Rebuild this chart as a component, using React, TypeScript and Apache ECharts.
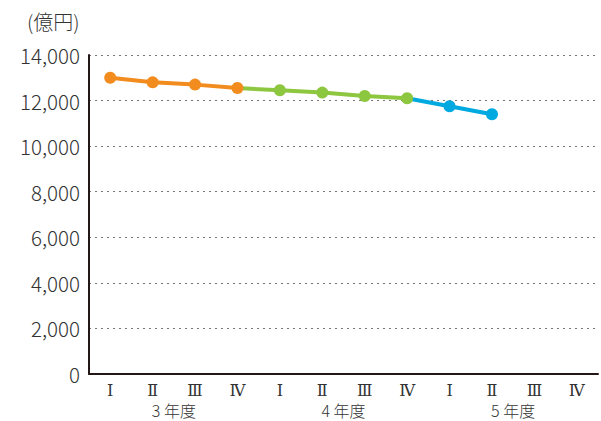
import React, { useEffect, useRef } from "react";
import * as echarts from "echarts";

const quarters = ["Ⅰ", "Ⅱ", "Ⅲ", "Ⅳ", "Ⅰ", "Ⅱ", "Ⅲ", "Ⅳ", "Ⅰ", "Ⅱ", "Ⅲ", "Ⅳ"];
const years = ["3 年度", "4 年度", "5 年度"];
const values = [13000, 12800, 12700, 12550, 12450, 12350, 12200, 12100, 11750, 11400];
const yTicks = [0, 2000, 4000, 6000, 8000, 10000, 12000, 14000];
const unitLabel = "(億円)";

const ranges = [
  { from: 0, to: 3, markFrom: 0, color: "#F28C1E" },
  { from: 3, to: 7, markFrom: 4, color: "#8DC63F" },
  { from: 7, to: 9, markFrom: 8, color: "#00A9E0" },
];

const FONT = "'Noto Sans CJK JP', 'Noto Sans', sans-serif";

export default function App() {
  const ref = useRef<HTMLDivElement>(null);
  useEffect(() => {
    const chart = echarts.init(ref.current!, null, { renderer: "svg" });
    const series = ranges.map((r, k) => ({
      type: "line",
      xAxisIndex: 0,
      yAxisIndex: 0,
      z: 10 - k,
      symbol: "circle",
      symbolSize: 12,
      lineStyle: { color: r.color, width: 4 },
      itemStyle: { color: r.color },
      data: quarters.map((_, i) => {
        if (i < r.from || i > r.to || i >= values.length) return "-";
        if (i < r.markFrom) return { value: values[i], symbol: "none" };
        return values[i];
      }),
    }));
    chart.setOption({
      animation: false,
      grid: { left: 89, right: 3, top: 55, bottom: 47, containLabel: false },
      graphic: [
        {
          type: "text",
          left: 27,
          top: 11,
          style: { text: unitLabel, font: `300 20px ${FONT}`, fill: "#333" },
        },
      ],
      xAxis: [
        {
          type: "category",
          data: quarters,
          boundaryGap: true,
          axisLine: { lineStyle: { color: "#231815", width: 2 } },
          axisTick: { show: false },
          axisLabel: { color: "#333", fontSize: 16, fontFamily: "'DejaVu Serif', serif", margin: 8 },
        },
        {
          type: "category",
          data: years,
          position: "bottom",
          offset: 21,
          boundaryGap: true,
          axisLine: { show: false },
          axisTick: { show: false },
          axisLabel: { color: "#333", fontSize: 16, fontWeight: 300, fontFamily: FONT, margin: 7 },
        },
      ],
      yAxis: {
        type: "value",
        min: yTicks[0],
        max: yTicks[yTicks.length - 1],
        interval: 2000,
        axisLine: { show: true, lineStyle: { color: "#231815", width: 2 } },
        axisTick: { show: false },
        axisLabel: {
          color: "#333",
          fontSize: 20.5,
          fontWeight: 300,
          fontFamily: FONT,
          margin: 9,
          formatter: (v: number) => v.toLocaleString("en-US"),
        },
        splitLine: { lineStyle: { color: "#777", type: [2, 4], width: 1 } },
      },
      series,
    });
    return () => chart.dispose();
  }, []);
  return (
    <div
      ref={ref}
      style={{ position: "fixed", left: 0, top: 0, width: 601, height: 421, background: "#fff" }}
    />
  );
}
